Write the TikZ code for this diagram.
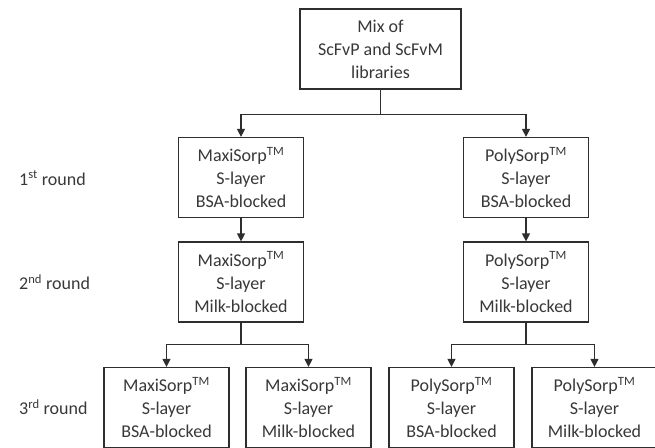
\documentclass[tikz,border=0pt]{standalone}
\usepackage{fontspec}
\setmainfont{Carlito}
\usetikzlibrary{arrows.meta}

\begin{document}
\begin{tikzpicture}
	[x=1pt,y=-1pt,line cap=butt,
	%Styles
	box/.style={draw=linecolor,line width=1.2pt,inner sep=0pt,minimum width=125pt,minimum height=80pt,align=center,font=\fontsize{18}{23}\selectfont,text=textcolor},
	round text/.style={anchor=west,inner sep=0pt,font=\fontsize{18}{23}\selectfont,text=textcolor},
	link/.style={draw=linecolor,line width=1.2pt},
	flow/.style={link,-{Triangle[length=8pt,width=8pt]}}
	]
	
	%Colors
	\colorlet{linecolor}{black!82}	%boxes and connectors
	\colorlet{textcolor}{black!78}
	
	\useasboundingbox (0,0) rectangle (655,447);
	
	%The graphic
	\node[box,minimum width=161pt] (mix) at (380.5, 49) {Mix of\\ScFvP and ScFvM\\libraries};
	
	\node[box] (maxiA) at (241, 177.5) {MaxiSorp\textsuperscript{TM}\\S-layer\\BSA-blocked};
	\node[box] (polyA) at (526, 177.5) {PolySorp\textsuperscript{TM}\\S-layer\\BSA-blocked};
	
	\node[box] (maxiB) at (241, 282) {MaxiSorp\textsuperscript{TM}\\S-layer\\Milk-blocked};
	\node[box] (polyB) at (526, 282) {PolySorp\textsuperscript{TM}\\S-layer\\Milk-blocked};
	
	\node[box] (maxiC) at (166.5, 407.5) {MaxiSorp\textsuperscript{TM}\\S-layer\\BSA-blocked};
	\node[box] (maxiD) at (308.5, 407.5) {MaxiSorp\textsuperscript{TM}\\S-layer\\Milk-blocked};
	\node[box] (polyC) at (451.5, 407.5) {PolySorp\textsuperscript{TM}\\S-layer\\BSA-blocked};
	\node[box] (polyD) at (594.5, 407.5) {PolySorp\textsuperscript{TM}\\S-layer\\Milk-blocked};
	
	\node[round text] (first) at (19, 178) {1\textsuperscript{st} round};
	\node[round text] (second) at (19, 282) {2\textsuperscript{nd} round};
	\node[round text] (third) at (19, 407) {3\textsuperscript{rd} round};
	
	\draw[link] (mix.south) -- ++(0,25) coordinate (split);
	\draw[flow] (split) -| (maxiA.north);
	\draw[flow] (split) -| (polyA.north);
	
	\draw[flow] (maxiA) -- (maxiB);
	\draw[flow] (polyA) -- (polyB);
	
	\draw[link] (maxiB.south) -- ++(0,22) coordinate (maxisplit);
	\draw[flow] (maxisplit) -| (maxiC.north);
	\draw[flow] (maxisplit) -| (maxiD.north);
	
	\draw[link] (polyB.south) -- ++(0,22) coordinate (polysplit);
	\draw[flow] (polysplit) -| (polyC.north);
	\draw[flow] (polysplit) -| (polyD.north);
\end{tikzpicture}
\end{document}
